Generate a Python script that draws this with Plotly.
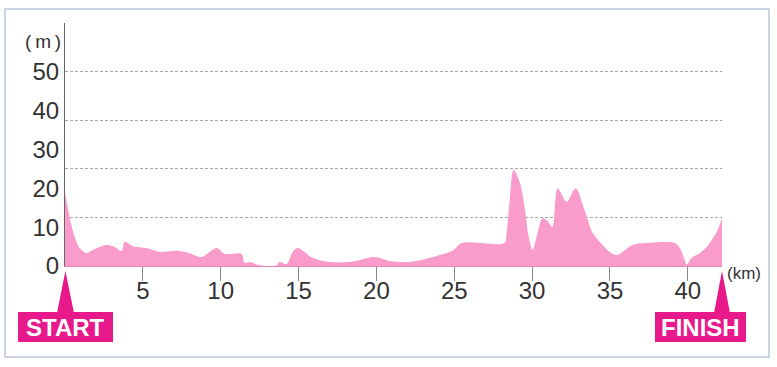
import plotly.graph_objects as go

# ---- data ----
distance_km = [0.0, 0.3, 0.62, 0.94, 1.39, 1.77, 2.35, 2.74, 3.19, 3.64, 3.83, 4.36, 5.24, 6.08,
               7.17, 8.0, 8.77, 9.74, 10.25, 11.34, 11.53, 11.86, 12.5, 13.6, 13.78, 14.23,
               14.62, 14.94, 15.9, 17.0, 18.09, 18.92, 19.76, 20.2, 20.84, 21.94, 22.77, 23.86,
               24.89, 25.47, 26.63, 28.23, 28.36, 28.56, 28.81, 29.2, 29.52, 29.78, 30.03,
               30.29, 30.67, 31.0, 31.3, 31.64, 32.22, 32.79, 33.37, 33.89, 34.53, 34.98,
               35.43, 36.46, 37.36, 39.16, 39.48, 39.81, 39.93, 40.25, 40.76, 41.21, 41.53,
               41.85, 42.195]
elevation_m = [19.0, 12.6, 7.5, 4.6, 3.3, 4.1, 5.1, 5.4, 4.9, 3.9, 6.2, 5.1, 4.6, 3.6,
               3.9, 3.3, 2.3, 4.6, 3.1, 3.1, 0.8, 1.0, 0.2, 0.2, 1.0, 0.5,
               3.6, 4.6, 2.1, 1.0, 1.0, 1.5, 2.3, 2.1, 1.3, 1.0, 1.5, 2.6,
               3.9, 5.9, 5.9, 5.9, 8.5, 17.0, 24.7, 21.6, 15.2, 7.5, 4.1,
               7.5, 12.3, 11.5, 10.0, 20.0, 16.5, 20.0, 14.4, 8.5, 5.4, 3.6,
               2.8, 5.4, 5.9, 5.9, 4.6, 1.5, 0.3, 2.1, 3.3, 4.9, 6.7,
               8.7, 12.3]
y_tick_values = [0, 10, 20, 30, 40, 50]
y_grid_values = [12.5, 25, 37.5, 50]
x_tick_values = [5, 10, 15, 20, 25, 30, 35, 40]
y_unit = "(\u2009m\u2009)"
x_unit = "(km)"
start_label = "START"
finish_label = "FINISH"

# ---- layout geometry (pixels) ----
W, H = 777, 367
L, R, T, B = 65, 722, 23, 266
PW, PH = R - L, B - T


def px(xp):
    return (xp - L) / PW


def py(yp):
    return (B - yp) / PH


PINK = "#F99BCB"
MAGENTA = "#E8198B"
TXT = "#333333"

fig = go.Figure()
fig.add_trace(go.Scatter(
    x=distance_km, y=elevation_m, mode="lines",
    line=dict(width=0, shape="spline", smoothing=0.9, color=PINK),
    fill="tozeroy", fillcolor=PINK, hoverinfo="skip", showlegend=False,
))

shapes = [
    # outer frame
    dict(type="rect", xref="paper", yref="paper", x0=px(5), x1=px(769), y0=py(357), y1=py(9),
         line=dict(color="#BCC6DA", width=1.5), fillcolor="rgba(0,0,0,0)", layer="below"),
    # START marker
    dict(type="path", xref="paper", yref="paper",
         path=f"M {px(65.4)} {py(271)} L {px(74)} {py(313)} L {px(57)} {py(313)} Z",
         fillcolor=MAGENTA, line=dict(width=0)),
    dict(type="rect", xref="paper", yref="paper", x0=px(18), x1=px(113), y0=py(342), y1=py(312),
         fillcolor=MAGENTA, line=dict(width=0)),
    # FINISH marker
    dict(type="path", xref="paper", yref="paper",
         path=f"M {px(722)} {py(271)} L {px(730)} {py(313)} L {px(714)} {py(313)} Z",
         fillcolor=MAGENTA, line=dict(width=0)),
    dict(type="rect", xref="paper", yref="paper", x0=px(655), x1=px(746), y0=py(342), y1=py(312),
         fillcolor=MAGENTA, line=dict(width=0)),
]

annotations = [
    dict(text=start_label, xref="paper", yref="paper", x=px(65.5), y=py(327), showarrow=False,
         xanchor="center", yanchor="middle",
         font=dict(family="Liberation Sans", size=24, color="white", weight="bold")),
    dict(text=finish_label, xref="paper", yref="paper", x=px(700.5), y=py(327), showarrow=False,
         xanchor="center", yanchor="middle",
         font=dict(family="Liberation Sans", size=24, color="white", weight="bold")),
    dict(text=y_unit, xref="paper", yref="paper", x=px(63), y=py(41), showarrow=False,
         xanchor="right", yanchor="middle",
         font=dict(family="Liberation Sans", size=19, color=TXT)),
    dict(text=x_unit, xref="paper", yref="paper", x=px(725), y=py(273), showarrow=False,
         xanchor="left", yanchor="middle",
         font=dict(family="Liberation Sans", size=17, color=TXT)),
]

fig.update_layout(
    width=W, height=H,
    margin=dict(l=L, r=W - R, t=T, b=H - B),
    paper_bgcolor="white", plot_bgcolor="white",
    shapes=shapes, annotations=annotations,
    xaxis=dict(range=[0, 42.195], tickvals=x_tick_values, ticks="outside", ticklen=14,
               tickcolor="#888888", tickwidth=1, showgrid=False, zeroline=False,
               showline=True, linecolor="#E784B8", linewidth=1, ticklabelstandoff=-11,
               tickfont=dict(family="Liberation Sans", size=24, color=TXT), fixedrange=True),
    yaxis=dict(range=[0, 62.5], tickvals=y_tick_values, ticks="", showgrid=False, zeroline=False,
               showline=True, linecolor="#666666", linewidth=1,
               tickfont=dict(family="Liberation Sans", size=24, color=TXT),
               minor=dict(tickvals=y_grid_values, showgrid=True, gridcolor="#A8A8A8",
                          griddash="3px,2px", gridwidth=1, ticks=""),
               fixedrange=True),
)

fig.write_html("out.html", config={"displayModeBar": False},
               post_script="document.body.style.margin='0px';")
